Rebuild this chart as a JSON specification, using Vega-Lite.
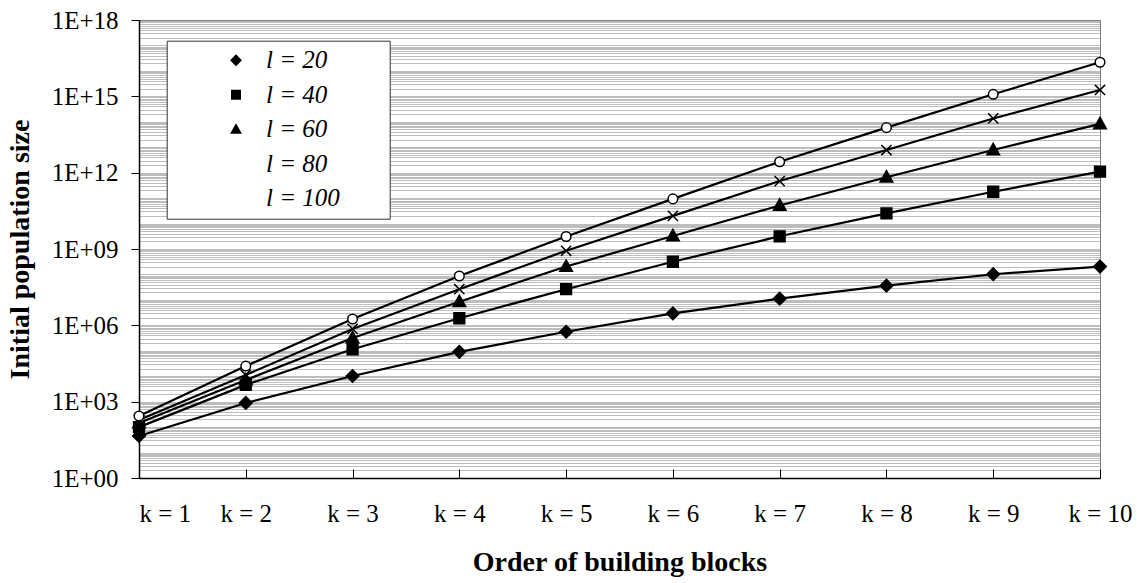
{
  "$schema": "https://vega.github.io/schema/vega-lite/v6.json",
  "width": 961,
  "height": 458,
  "autosize": {"type": "none"},
  "padding": {"left": 139, "top": 20, "right": 43, "bottom": 105},
  "background": "white",
  "config": {
    "font": "Liberation Serif",
    "view": {"stroke": "#808080", "strokeWidth": 1},
    "legend": {
      "orient": "none", "legendX": 27.7, "legendY": 20.7,
      "padding": 7, "rowPadding": 8.5,
      "symbolSize": 400, "symbolStrokeWidth": 2, "symbolOffset": 49.8, "symbolOpacity": 1,
      "symbolStrokeColor": "black",
      "labelOffset": 17.5, "labelAlign": "left",
      "labelFont": "Liberation Serif", "labelFontSize": 25, "labelFontStyle": "italic", "labelColor": "black",
      "strokeColor": "#333333", "fillColor": "white"
    }
  },
  "data": {
    "values": [
      {"l": "l = 20", "k": 1, "v": 45}, {"l": "l = 20", "k": 2, "v": 890}, {"l": "l = 20", "k": 3, "v": 1.02e4}, {"l": "l = 20", "k": 4, "v": 9.1e4}, {"l": "l = 20", "k": 5, "v": 5.6e5}, {"l": "l = 20", "k": 6, "v": 2.95e6}, {"l": "l = 20", "k": 7, "v": 1.12e7}, {"l": "l = 20", "k": 8, "v": 3.63e7}, {"l": "l = 20", "k": 9, "v": 1.02e8}, {"l": "l = 20", "k": 10, "v": 2.04e8},
      {"l": "l = 40", "k": 1, "v": 100}, {"l": "l = 40", "k": 2, "v": 4.57e3}, {"l": "l = 40", "k": 3, "v": 1.15e5}, {"l": "l = 40", "k": 4, "v": 1.9e6}, {"l": "l = 40", "k": 5, "v": 2.63e7}, {"l": "l = 40", "k": 6, "v": 3.16e8}, {"l": "l = 40", "k": 7, "v": 3.16e9}, {"l": "l = 40", "k": 8, "v": 2.51e10}, {"l": "l = 40", "k": 9, "v": 1.78e11}, {"l": "l = 40", "k": 10, "v": 1.1e12},
      {"l": "l = 60", "k": 1, "v": 145}, {"l": "l = 60", "k": 2, "v": 7.08e3}, {"l": "l = 60", "k": 3, "v": 3.16e5}, {"l": "l = 60", "k": 4, "v": 8.5e6}, {"l": "l = 60", "k": 5, "v": 2.04e8}, {"l": "l = 60", "k": 6, "v": 3.24e9}, {"l": "l = 60", "k": 7, "v": 5.13e10}, {"l": "l = 60", "k": 8, "v": 6.6e11}, {"l": "l = 60", "k": 9, "v": 7.76e12}, {"l": "l = 60", "k": 10, "v": 8.3e13},
      {"l": "l = 80", "k": 1, "v": 190}, {"l": "l = 80", "k": 2, "v": 1.12e4}, {"l": "l = 80", "k": 3, "v": 7.24e5}, {"l": "l = 80", "k": 4, "v": 2.63e7}, {"l": "l = 80", "k": 5, "v": 8.5e8}, {"l": "l = 80", "k": 6, "v": 2.0e10}, {"l": "l = 80", "k": 7, "v": 4.68e11}, {"l": "l = 80", "k": 8, "v": 7.76e12}, {"l": "l = 80", "k": 9, "v": 1.35e14}, {"l": "l = 80", "k": 10, "v": 1.78e15},
      {"l": "l = 100", "k": 1, "v": 275}, {"l": "l = 100", "k": 2, "v": 2.51e4}, {"l": "l = 100", "k": 3, "v": 1.78e6}, {"l": "l = 100", "k": 4, "v": 8.7e7}, {"l": "l = 100", "k": 5, "v": 3.09e9}, {"l": "l = 100", "k": 6, "v": 9.33e10}, {"l": "l = 100", "k": 7, "v": 2.69e12}, {"l": "l = 100", "k": 8, "v": 5.89e13}, {"l": "l = 100", "k": 9, "v": 1.2e15}, {"l": "l = 100", "k": 10, "v": 2.19e16}
    ]
  },
  "encoding": {
    "x": {
      "field": "k", "type": "quantitative",
      "scale": {"domain": [1, 10], "nice": false, "zero": false},
      "axis": {
        "values": [1, 2, 3, 4, 5, 6, 7, 8, 9, 10],
        "labelExpr": "'k = ' + datum.value",
        "labelFlush": false,
        "labelAlign": {"condition": {"test": "datum.value === 1", "value": "left"}, "value": "center"},
        "labelFont": "Liberation Serif", "labelFontSize": 25, "labelColor": "black",
        "labelPadding": 32,
        "tickSize": -9, "tickColor": "black", "tickWidth": 1,
        "domainColor": "black", "domainWidth": 1.5,
        "grid": false,
        "title": "Order of building blocks",
        "titleFont": "Liberation Serif", "titleFontSize": 28, "titleFontWeight": "bold", "titleColor": "black",
        "titlePadding": 22
      }
    },
    "y": {
      "field": "v", "type": "quantitative",
      "scale": {"type": "log", "domain": [1, 1e18], "nice": false, "zero": false},
      "axis": {
        "values": [1,2,3,4,5,6,7,8,9,1e1,2e1,3e1,4e1,5e1,6e1,7e1,8e1,9e1,1e2,2e2,3e2,4e2,5e2,6e2,7e2,8e2,9e2,1e3,2e3,3e3,4e3,5e3,6e3,7e3,8e3,9e3,1e4,2e4,3e4,4e4,5e4,6e4,7e4,8e4,9e4,1e5,2e5,3e5,4e5,5e5,6e5,7e5,8e5,9e5,1e6,2e6,3e6,4e6,5e6,6e6,7e6,8e6,9e6,1e7,2e7,3e7,4e7,5e7,6e7,7e7,8e7,9e7,1e8,2e8,3e8,4e8,5e8,6e8,7e8,8e8,9e8,1e9,2e9,3e9,4e9,5e9,6e9,7e9,8e9,9e9,1e10,2e10,3e10,4e10,5e10,6e10,7e10,8e10,9e10,1e11,2e11,3e11,4e11,5e11,6e11,7e11,8e11,9e11,1e12,2e12,3e12,4e12,5e12,6e12,7e12,8e12,9e12,1e13,2e13,3e13,4e13,5e13,6e13,7e13,8e13,9e13,1e14,2e14,3e14,4e14,5e14,6e14,7e14,8e14,9e14,1e15,2e15,3e15,4e15,5e15,6e15,7e15,8e15,9e15,1e16,2e16,3e16,4e16,5e16,6e16,7e16,8e16,9e16,1e17,2e17,3e17,4e17,5e17,6e17,7e17,8e17,9e17,1e18],
        "labelExpr": "abs(log(datum.value)/LN10 - round(log(datum.value)/LN10)) < 0.01 && round(log(datum.value)/LN10) % 3 === 0 ? '1E+' + (round(log(datum.value)/LN10) < 10 ? '0' : '') + round(log(datum.value)/LN10) : ''",
        "labelOverlap": false,
        "labelFont": "Liberation Serif", "labelFontSize": 25, "labelColor": "black",
        "labelPadding": 13,
        "tickSize": 8, "tickColor": "black", "tickWidth": 1,
        "tickOpacity": {"condition": {"test": "abs(log(datum.value)/LN10 - round(log(datum.value)/LN10)) < 0.01 && round(log(datum.value)/LN10) % 3 === 0", "value": 1}, "value": 0},
        "grid": true, "gridColor": "#7a7a7a", "gridDash": [1, 1], "gridWidth": 1,
        "domainColor": "black", "domainWidth": 1.5,
        "title": "Initial population size",
        "titleFont": "Liberation Serif", "titleFontSize": 28, "titleFontWeight": "bold", "titleColor": "black",
        "titlePadding": 17
      }
    }
  },
  "resolve": {"scale": {"shape": "independent", "fill": "independent"}},
  "layer": [
    {
      "mark": {"type": "line", "color": "black", "strokeWidth": 2.2},
      "encoding": {"detail": {"field": "l", "type": "nominal"}}
    },
    {
      "mark": {"type": "point", "stroke": "black", "strokeWidth": 1.5, "opacity": 1, "size": 144},
      "encoding": {
        "shape": {
          "field": "l", "type": "nominal",
          "scale": {"domain": ["l = 20", "l = 40", "l = 60", "l = 80", "l = 100"], "range": ["M0,-1.05L1.05,0L0,1.05L-1.05,0Z", "M-0.9,-0.9L0.9,-0.9L0.9,0.9L-0.9,0.9Z", "M0,-1.1L1.05,0.8L-1.05,0.8Z", "M-0.85,-0.85L0.85,0.85M-0.85,0.85L0.85,-0.85", "M0.8,0A0.8,0.8,0,1,1,-0.8,0A0.8,0.8,0,1,1,0.8,0Z"]},
          "legend": null
        },
        "fill": {
          "field": "l", "type": "nominal",
          "scale": {"domain": ["l = 20", "l = 40", "l = 60", "l = 80", "l = 100"], "range": ["black", "black", "black", "black", "white"]},
          "legend": null
        }
      }
    },
    {
      "mark": {"type": "point", "stroke": "black", "strokeWidth": 2, "opacity": 0, "size": 400},
      "encoding": {
        "shape": {
          "field": "l", "type": "nominal",
          "scale": {"domain": ["l = 20", "l = 40", "l = 60", "l = 80", "l = 100"], "range": ["M-2.3,0L2.3,0M0,-0.6L0.6,0L0,0.6L-0.6,0ZM14.2,0", "M-2.3,0L2.3,0M-0.5,-0.5L0.5,-0.5L0.5,0.5L-0.5,0.5ZM14.2,0", "M-2.3,0L2.3,0M0,-0.6L0.6,0.45L-0.6,0.45ZM14.2,0", "M-2.3,0L2.3,0M-0.55,-0.55L0.55,0.55M-0.55,0.55L0.55,-0.55M14.2,0", "M-2.3,0L-0.5,0M0.5,0L2.3,0M0.5,0A0.5,0.5,0,1,1,-0.5,0A0.5,0.5,0,1,1,0.5,0ZM14.2,0"]},
          "legend": {"title": null}
        },
        "fill": {
          "field": "l", "type": "nominal",
          "scale": {"domain": ["l = 20", "l = 40", "l = 60", "l = 80", "l = 100"], "range": ["black", "black", "black", "black", "white"]},
          "legend": {"title": null}
        }
      }
    }
  ]
}
